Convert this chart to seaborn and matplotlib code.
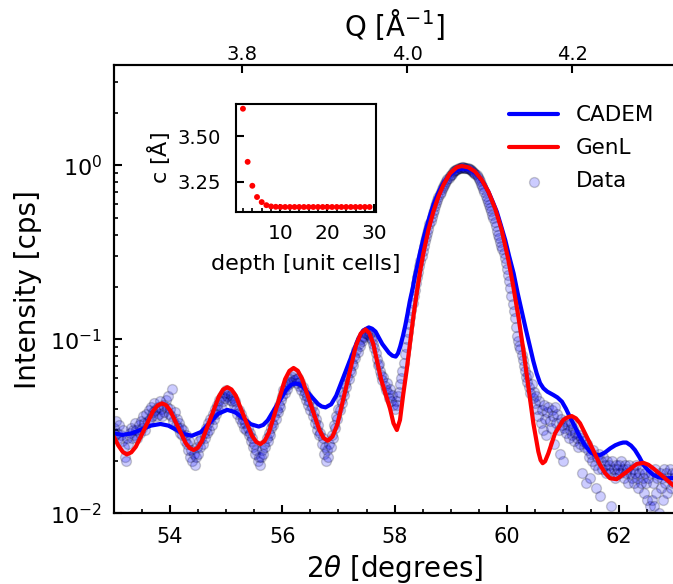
import numpy as np
import pandas as pd
import matplotlib
matplotlib.use("Agg")
import matplotlib.pyplot as plt
import seaborn as sns
from matplotlib.ticker import MultipleLocator, FormatStrFormatter, NullLocator

# ---------------- data ----------------
# CADEM model curve
cadem_x = [53.00, 53.15, 53.32, 53.49, 53.66, 53.83, 53.97, 54.11, 54.25, 54.39,
           54.55, 54.705, 54.86, 55.02, 55.16, 55.30, 55.44, 55.58, 55.66, 55.74,
           55.905, 56.07, 56.15, 56.23, 56.30, 56.365, 56.50, 56.635, 56.70, 56.77,
           56.87, 56.96, 57.155, 57.35, 57.44, 57.54, 57.60, 57.66, 57.78, 57.90,
           57.96, 58.02, 58.06, 58.10, 58.15, 58.19, 58.23, 58.27, 58.32, 58.36,
           58.41, 58.45, 58.51, 58.57, 58.63, 58.69, 58.75, 58.81, 58.88, 58.96,
           59.03, 59.11, 59.17, 59.24, 59.31, 59.37, 59.45, 59.52, 59.60, 59.67,
           59.74, 59.82, 59.89, 59.97, 60.04, 60.12, 60.19, 60.26, 60.34, 60.41,
           60.47, 60.53, 60.59, 60.65, 60.72, 60.83, 60.90, 60.98, 61.05, 61.12,
           61.21, 61.30, 61.39, 61.48, 61.57, 61.66, 61.75, 61.84, 61.93, 62.01,
           62.07, 62.13, 62.21, 62.28, 62.36, 62.43, 62.52, 62.61, 62.70, 62.79,
           62.88, 63.00]
cadem_y = [0.0288, 0.0282, 0.0288, 0.0303, 0.0319, 0.0326, 0.0319, 0.0302, 0.0285, 0.0279,
           0.0293, 0.0331, 0.0374, 0.0393, 0.0381, 0.0352, 0.0325, 0.0315, 0.0322, 0.0342,
           0.0419, 0.0513, 0.0546, 0.0558, 0.0551, 0.0533, 0.0476, 0.0425, 0.0411, 0.0406,
           0.0423, 0.0474, 0.0689, 0.100, 0.1124, 0.117, 0.115, 0.1107, 0.0940, 0.0835,
           0.0805, 0.0795, 0.083, 0.091, 0.105, 0.120, 0.140, 0.165, 0.195, 0.229,
           0.270, 0.312, 0.375, 0.444, 0.515, 0.591, 0.660, 0.728, 0.800, 0.861,
           0.905, 0.940, 0.955, 0.958, 0.952, 0.940, 0.897, 0.841, 0.775, 0.705,
           0.625, 0.541, 0.455, 0.372, 0.300, 0.239, 0.185, 0.147, 0.113, 0.0908,
           0.075, 0.0637, 0.056, 0.0523, 0.0500, 0.0478, 0.0463, 0.0438, 0.0400, 0.0359,
           0.0315, 0.0275, 0.0246, 0.0226, 0.0216, 0.0216, 0.0224, 0.0236, 0.0246, 0.0252,
           0.0255, 0.0255, 0.0245, 0.0231, 0.0210, 0.0190, 0.0176, 0.0166, 0.0161, 0.0159,
           0.0159, 0.0160]

# GenL model curve
genl_x = [53.00, 53.08, 53.16, 53.23, 53.31, 53.39, 53.545, 53.70, 53.78, 53.86,
          53.93, 54.00, 54.14, 54.28, 54.35, 54.42, 54.495, 54.57, 54.72, 54.87,
          54.945, 55.02, 55.094, 55.17, 55.31, 55.46, 55.536, 55.61, 55.684, 55.76,
          55.905, 56.05, 56.126, 56.20, 56.276, 56.35, 56.505, 56.66, 56.734, 56.81,
          56.894, 56.98, 57.145, 57.31, 57.396, 57.48, 57.55, 57.62, 57.76, 57.918,
          57.98, 58.04, 58.096, 58.156, 58.215, 58.274, 58.334, 58.393, 58.453, 58.512,
          58.601, 58.690, 58.779, 58.868, 58.987, 59.106, 59.195, 59.314, 59.432, 59.551,
          59.670, 59.789, 59.907, 60.026, 60.115, 60.204, 60.293, 60.382, 60.471, 60.560,
          60.60, 60.637, 60.68, 60.738, 60.857, 61.005, 61.08, 61.154, 61.23, 61.302,
          61.480, 61.658, 61.75, 61.836, 61.955, 62.133, 62.311, 62.430, 62.52, 62.608,
          62.786, 62.958, 63.00]
genl_y = [0.0275, 0.0245, 0.0225, 0.0218, 0.0224, 0.0241, 0.0305, 0.0388, 0.0417, 0.0428,
          0.0418, 0.0391, 0.0315, 0.0253, 0.0237, 0.0231, 0.0238, 0.0261, 0.0350, 0.0469,
          0.0514, 0.0530, 0.0515, 0.0475, 0.0364, 0.0279, 0.0257, 0.0250, 0.0260, 0.0290,
          0.0413, 0.0590, 0.0658, 0.0684, 0.0659, 0.0594, 0.0423, 0.0301, 0.0271, 0.0261,
          0.0276, 0.0324, 0.0546, 0.0918, 0.1078, 0.114, 0.1084, 0.094, 0.0587, 0.0400,
          0.0329, 0.0301, 0.0344, 0.0489, 0.0666, 0.0948, 0.135, 0.184, 0.245, 0.312,
          0.425, 0.541, 0.660, 0.771, 0.899, 0.973, 0.990, 0.973, 0.920, 0.824,
          0.705, 0.566, 0.425, 0.286, 0.200, 0.135, 0.0867, 0.0533, 0.0329, 0.0226,
          0.0202, 0.0194, 0.0199, 0.0221, 0.0288, 0.0344, 0.0356, 0.0362, 0.0351, 0.0329,
          0.0252, 0.0190, 0.0170, 0.0159, 0.0157, 0.0173, 0.0192, 0.0195, 0.0190, 0.0181,
          0.0162, 0.0145, 0.0142]

# measured data (2theta scan, 0.02 deg steps from 53.00 to 63.00)
data_x = np.round(np.linspace(53.0, 63.0, 501), 2)
data_y = [
    # 53.00 - 53.48
    0.031, 0.028, 0.034, 0.029, 0.027, 0.032, 0.028, 0.026, 0.030, 0.024,
    0.021, 0.020, 0.027, 0.025, 0.029, 0.031, 0.027, 0.030, 0.028, 0.033,
    0.030, 0.027, 0.032, 0.029, 0.034,
    # 53.50 - 53.98
    0.031, 0.036, 0.033, 0.030, 0.037, 0.034, 0.039, 0.035, 0.041, 0.036,
    0.038, 0.043, 0.039, 0.036, 0.041, 0.037, 0.044, 0.040, 0.036, 0.042,
    0.038, 0.045, 0.041, 0.047, 0.037,
    # 54.00 - 54.48
    0.040, 0.036, 0.052, 0.034, 0.038, 0.032, 0.035, 0.031, 0.033, 0.029,
    0.031, 0.028, 0.030, 0.026, 0.028, 0.025, 0.023, 0.026, 0.021, 0.023,
    0.020, 0.022, 0.019, 0.021, 0.024,
    # 54.50 - 54.98
    0.022, 0.026, 0.024, 0.027, 0.025, 0.029, 0.027, 0.031, 0.029, 0.033,
    0.030, 0.035, 0.032, 0.037, 0.035, 0.040, 0.037, 0.042, 0.039, 0.045,
    0.041, 0.047, 0.044, 0.049, 0.046,
    # 55.00 - 55.48
    0.051, 0.047, 0.049, 0.045, 0.048, 0.044, 0.046, 0.042, 0.044, 0.040,
    0.037, 0.039, 0.035, 0.037, 0.033, 0.035, 0.031, 0.033, 0.030, 0.031,
    0.028, 0.029, 0.026, 0.027, 0.024,
    # 55.50 - 55.98
    0.025, 0.022, 0.023, 0.020, 0.021, 0.019, 0.021, 0.023, 0.022, 0.025,
    0.024, 0.027, 0.026, 0.029, 0.028, 0.031, 0.033, 0.032, 0.036, 0.035,
    0.039, 0.038, 0.042, 0.041, 0.045,
    # 56.00 - 56.48
    0.047, 0.051, 0.049, 0.054, 0.052, 0.057, 0.055, 0.059, 0.057, 0.061,
    0.058, 0.063, 0.059, 0.056, 0.060, 0.054, 0.057, 0.051, 0.053, 0.048,
    0.050, 0.045, 0.047, 0.042, 0.044,
    # 56.50 - 56.98
    0.039, 0.041, 0.036, 0.038, 0.033, 0.035, 0.030, 0.032, 0.028, 0.029,
    0.025, 0.027, 0.022, 0.024, 0.020, 0.023, 0.021, 0.025, 0.024, 0.028,
    0.027, 0.032, 0.031, 0.036, 0.035,
    # 57.00 - 57.48
    0.040, 0.039, 0.045, 0.043, 0.050, 0.048, 0.055, 0.053, 0.061, 0.059,
    0.067, 0.065, 0.073, 0.071, 0.080, 0.078, 0.087, 0.085, 0.094, 0.092,
    0.100, 0.098, 0.105, 0.103, 0.109,
    # 57.50 - 57.98
    0.107, 0.111, 0.106, 0.109, 0.102, 0.099, 0.094, 0.089, 0.083, 0.077,
    0.071, 0.072, 0.066, 0.062, 0.058, 0.061, 0.054, 0.051, 0.056, 0.049,
    0.046, 0.052, 0.044, 0.048, 0.042,
    # 58.00 - 58.48
    0.040, 0.044, 0.042, 0.047, 0.050, 0.055, 0.060, 0.066, 0.073, 0.082,
    0.090, 0.100, 0.110, 0.122, 0.135, 0.148, 0.162, 0.177, 0.193, 0.210,
    0.227, 0.245, 0.263, 0.282, 0.302,
    # 58.50 - 58.98
    0.322, 0.343, 0.365, 0.387, 0.410, 0.433, 0.457, 0.481, 0.505, 0.530,
    0.555, 0.580, 0.605, 0.630, 0.655, 0.680, 0.703, 0.726, 0.748, 0.770,
    0.790, 0.810, 0.829, 0.847, 0.864,
    # 59.00 - 59.48
    0.880, 0.895, 0.909, 0.922, 0.934, 0.944, 0.953, 0.960, 0.966, 0.970,
    0.972, 0.972, 0.971, 0.968, 0.964, 0.959, 0.953, 0.946, 0.938, 0.929,
    0.919, 0.907, 0.894, 0.877, 0.856,
    # 59.50 - 59.98
    0.830, 0.810, 0.785, 0.760, 0.730, 0.700, 0.670, 0.640, 0.615, 0.590,
    0.570, 0.545, 0.520, 0.495, 0.470, 0.445, 0.420, 0.400, 0.380, 0.360,
    0.345, 0.330, 0.315, 0.295, 0.275,
    # 60.00 - 60.48
    0.255, 0.235, 0.215, 0.196, 0.178, 0.160, 0.145, 0.132, 0.118, 0.105,
    0.098, 0.092, 0.088, 0.081, 0.076, 0.070, 0.066, 0.061, 0.057, 0.062,
    0.053, 0.049, 0.055, 0.046, 0.050,
    # 60.50 - 60.98
    0.043, 0.047, 0.040, 0.036, 0.044, 0.033, 0.039, 0.030, 0.042, 0.035,
    0.028, 0.038, 0.041, 0.034, 0.031, 0.039, 0.036, 0.025, 0.041, 0.033,
    0.037, 0.030, 0.022, 0.035, 0.032,
    # 61.00 - 61.48
    0.020, 0.031, 0.034, 0.029, 0.032, 0.027, 0.030, 0.033, 0.028, 0.031,
    0.026, 0.029, 0.027, 0.024, 0.028, 0.025, 0.027, 0.017, 0.026, 0.024,
    0.015, 0.025, 0.023, 0.021, 0.016,
    # 61.50 - 61.98
    0.022, 0.020, 0.023, 0.019, 0.014, 0.021, 0.018, 0.022, 0.0125, 0.020,
    0.018, 0.021, 0.019, 0.017, 0.020, 0.018, 0.019, 0.017, 0.011, 0.020,
    0.018, 0.016, 0.019, 0.017, 0.018,
    # 62.00 - 62.48
    0.019, 0.017, 0.020, 0.018, 0.016, 0.019, 0.017, 0.018, 0.015, 0.019,
    0.017, 0.016, 0.018, 0.015, 0.017, 0.019, 0.016, 0.014, 0.017, 0.015,
    0.018, 0.016, 0.013, 0.017, 0.015,
    # 62.50 - 62.98
    0.012, 0.016, 0.011, 0.017, 0.012, 0.015, 0.011, 0.018, 0.013, 0.016,
    0.010, 0.017, 0.014, 0.016, 0.012, 0.018, 0.015, 0.017, 0.013, 0.016,
    0.018, 0.014, 0.017, 0.015, 0.016,
    # 63.00
    0.017,
]

# inset: lattice parameter c vs depth
depth = [2, 3, 4, 5, 6, 7, 8, 9, 10, 11, 12, 13, 14, 15, 16, 17, 18, 19, 20,
         21, 22, 23, 24, 25, 26, 27, 28, 29]
c_param = [3.653, 3.360, 3.228, 3.166, 3.138, 3.121, 3.114, 3.112, 3.111, 3.111,
           3.111, 3.111, 3.111, 3.111, 3.111, 3.111, 3.111, 3.111, 3.111, 3.111,
           3.111, 3.111, 3.111, 3.111, 3.111, 3.111, 3.111, 3.111]

q_ticks = [3.8, 4.0, 4.2]
q_limits = (3.6453, 4.3247)

# ---------------- style ----------------
sns.set_style("ticks")
plt.rcParams["font.family"] = ["DejaVu Sans"]
plt.rcParams["mathtext.fontset"] = "dejavusans"
for key in ["text.color", "axes.labelcolor", "xtick.color", "ytick.color", "axes.edgecolor"]:
    plt.rcParams[key] = "black"
plt.rcParams["xtick.direction"] = "in"
plt.rcParams["ytick.direction"] = "in"
plt.rcParams["axes.linewidth"] = 1.5

fig = plt.figure(figsize=(6.73, 5.84), dpi=100)
ax = fig.add_axes([0.1692, 0.1211, 0.8343, 0.7676])

df_data = pd.DataFrame({"x": data_x, "y": data_y})
sns.scatterplot(data=df_data, x="x", y="y", ax=ax, color="blue", alpha=0.2,
                s=50, edgecolor="black", linewidth=1.0, label="Data", zorder=1)
sns.lineplot(x=cadem_x, y=cadem_y, ax=ax, color="blue", lw=3, label="CADEM", zorder=3)
sns.lineplot(x=genl_x, y=genl_y, ax=ax, color="red", lw=3, label="GenL", zorder=4)

ax.set_yscale("log")
ax.set_xlim(53, 63)
ax.set_ylim(0.01, 3.77)
ax.xaxis.set_major_locator(MultipleLocator(2))
ax.xaxis.set_minor_locator(MultipleLocator(0.5))
ax.tick_params(which="major", length=6, width=1.5)
ax.tick_params(which="minor", length=3, width=1.2)
ax.tick_params(axis="y", which="major", pad=8.5, labelsize=16)
ax.tick_params(axis="x", which="major", pad=10, labelsize=15)
ax.set_xlabel(r"2$\theta$ [degrees]", fontsize=20, labelpad=4)
ax.set_ylabel("Intensity [cps]", fontsize=20, labelpad=6)

h, l = ax.get_legend_handles_labels()
order = [l.index("CADEM"), l.index("GenL"), l.index("Data")]
ax.legend([h[i] for i in order], [l[i] for i in order], loc="upper right",
          frameon=False, fontsize=15.5, handlelength=2.28, borderaxespad=0,
          labelspacing=0.6, bbox_to_anchor=(0.977, 0.929))

# top Q axis
ax2 = ax.twiny()
ax2.set_xlim(*q_limits)
ax2.set_xticks(q_ticks)
ax2.xaxis.set_major_formatter(FormatStrFormatter("%.1f"))
ax2.xaxis.set_minor_locator(NullLocator())
ax2.tick_params(which="major", direction="in", length=6, width=1.5, labelsize=14, pad=0.5)
ax2.set_xlabel(r"Q [$\mathrm{\AA}^{-1}$]", fontsize=20, labelpad=7)

# inset
axin = fig.add_axes([0.3502, 0.6375, 0.208, 0.1844])
sns.scatterplot(x=depth, y=c_param, ax=axin, color="red", s=18, edgecolor="none")
axin.set_xlim(0.45, 30.3)
axin.set_ylim(3.085, 3.679)
axin.xaxis.set_major_locator(MultipleLocator(10))
axin.xaxis.set_minor_locator(MultipleLocator(2))
axin.yaxis.set_major_locator(MultipleLocator(0.25))
axin.yaxis.set_major_formatter(FormatStrFormatter("%.2f"))
axin.tick_params(which="major", length=6, width=1.5)
axin.tick_params(which="minor", length=3, width=1.2)
axin.tick_params(axis="x", which="major", pad=9, labelsize=14.5)
axin.tick_params(axis="y", which="major", pad=10.5, labelsize=14)
axin.set_xlabel("depth [unit cells]", fontsize=16, labelpad=8)
axin.set_ylabel(r"c [$\mathrm{\AA}$]", fontsize=16)

fig.savefig("out.png", dpi=100)
